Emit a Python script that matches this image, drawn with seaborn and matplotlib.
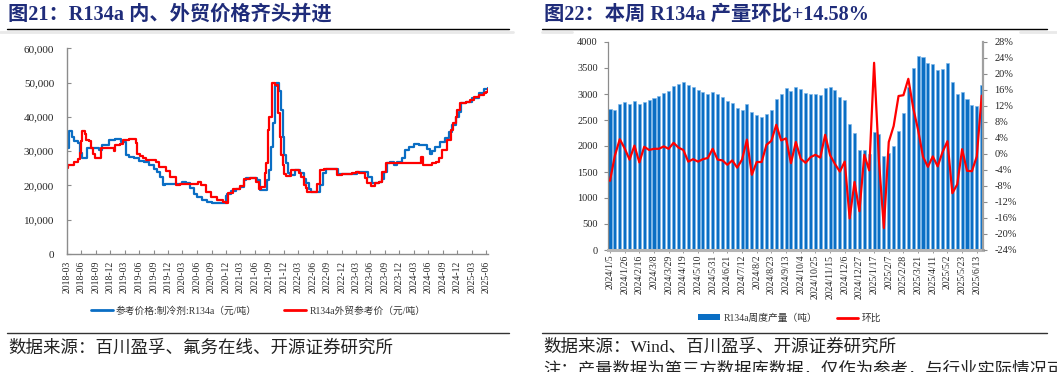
import numpy as np
import pandas as pd
import matplotlib
matplotlib.use("Agg")
import matplotlib.pyplot as plt
import matplotlib.dates as mdates
from matplotlib.lines import Line2D
from matplotlib.patches import Patch
from matplotlib.ticker import FuncFormatter
import seaborn as sns

# ---------------- data: left chart (price, yuan/ton) ----------------
dom_dates = ["2018-03-01", "2018-03-13", "2018-04-04", "2018-04-16", "2018-05-10", "2018-05-22",
             "2018-06-04", "2018-07-07", "2018-07-19", "2018-09-22", "2018-10-10", "2018-11-25",
             "2019-01-01", "2019-02-07", "2019-03-10", "2019-04-01", "2019-05-01", "2019-06-01",
             "2019-07-01", "2019-08-01", "2019-09-01", "2019-09-25", "2019-10-10", "2019-10-28",
             "2019-11-10", "2020-03-01", "2020-03-25", "2020-04-19", "2020-05-10", "2020-06-01",
             "2020-07-01", "2020-08-01", "2020-09-01", "2020-11-28", "2020-12-10", "2021-01-01",
             "2021-02-01", "2021-03-01", "2021-03-22", "2021-04-07", "2021-06-16", "2021-07-01",
             "2021-08-19", "2021-09-01", "2021-09-13", "2021-09-25", "2021-10-04", "2021-10-13",
             "2021-11-01", "2021-11-13", "2021-11-25", "2021-12-04", "2021-12-16", "2021-12-28",
             "2022-01-10", "2022-02-07", "2022-03-16", "2022-04-07", "2022-04-19", "2022-05-07",
             "2022-05-19", "2022-07-16", "2022-08-07", "2022-08-22", "2022-11-07", "2023-03-07",
             "2023-05-19", "2023-06-10", "2023-07-01", "2023-07-22", "2023-08-10", "2023-08-25",
             "2023-09-13", "2023-10-04", "2023-10-25", "2023-11-16", "2023-12-16", "2024-01-07",
             "2024-01-28", "2024-03-01", "2024-04-01", "2024-05-25", "2024-06-10", "2024-06-25",
             "2024-07-13", "2024-08-16", "2024-09-16", "2024-10-07", "2024-10-28", "2024-11-19",
             "2024-12-10", "2024-12-22", "2025-01-25", "2025-03-01", "2025-04-16", "2025-05-19",
             "2025-06-13"]
dom_prices = [31000, 36000, 34200, 33000, 32300, 29400,
              28000, 30800, 31000, 30300, 31800, 33200,
              33500, 32800, 28900, 28400, 27900, 27200,
              26700, 25900, 24800, 24000, 22500, 20000,
              20300, 20900, 20600, 19200, 17600, 16600,
              15800, 15200, 14900, 17000, 17600, 18400,
              18900, 19500, 21500, 22100, 21600, 18700,
              21600, 24500, 31300, 38100, 49000, 50000,
              47500, 42000, 34000, 29000, 26400, 23500,
              23000, 24500, 23500, 22000, 20600, 18900,
              18200, 20100, 23500, 24800, 23300, 24000,
              22500, 20800, 20600, 21100, 22000, 24000,
              26400, 26900, 26000, 26900, 27900, 30300,
              31300, 32100, 31800, 30500, 29200, 30100,
              31300, 32800, 33700, 35700, 37600, 40000,
              41500, 44100, 44400, 45400, 46850, 48000,
              48300]

exp_dates = ["2018-03-01", "2018-03-10", "2018-04-16", "2018-05-10", "2018-05-22", "2018-06-01",
             "2018-06-07", "2018-06-22", "2018-06-28", "2018-07-22", "2018-08-04", "2018-08-16",
             "2018-08-28", "2018-10-01", "2018-12-22", "2019-01-01", "2019-02-01", "2019-02-19",
             "2019-04-01", "2019-05-10", "2019-05-22", "2019-06-04", "2019-06-25", "2019-07-16",
             "2019-09-13", "2019-10-07", "2019-11-16", "2019-12-16", "2020-01-19", "2020-02-13",
             "2020-06-07", "2020-06-25", "2020-07-25", "2020-08-25", "2020-10-07", "2020-11-10",
             "2020-11-28", "2020-12-13", "2021-01-13", "2021-03-01", "2021-03-22", "2021-05-01",
             "2021-06-07", "2021-06-28", "2021-07-10", "2021-08-01", "2021-08-13", "2021-08-22",
             "2021-09-01", "2021-09-16", "2021-10-04", "2021-10-22", "2021-11-04", "2021-11-13",
             "2021-11-25", "2021-12-04", "2021-12-16", "2022-01-16", "2022-03-07", "2022-03-19",
             "2022-04-10", "2022-04-19", "2022-04-28", "2022-06-28", "2022-07-19", "2022-08-10",
             "2022-11-01", "2022-12-01", "2023-02-07", "2023-03-01", "2023-03-22", "2023-04-28",
             "2023-05-13", "2023-06-07", "2023-07-01", "2023-07-22", "2023-08-13", "2023-09-04",
             "2023-09-25", "2024-04-15", "2024-04-26", "2024-06-25", "2024-07-16", "2024-08-04",
             "2024-08-28", "2024-09-25", "2024-10-19", "2024-11-01", "2024-11-19", "2024-12-01",
             "2024-12-19", "2025-01-25", "2025-02-16", "2025-03-16", "2025-04-16", "2025-05-16",
             "2025-06-01", "2025-06-13"]
exp_prices = [25000, 26000, 26900, 27700, 29400, 33000,
              36000, 35000, 33200, 33000, 30800, 29300,
              27900, 31000, 29900, 31800, 32100, 33250,
              33600, 32300, 29200, 28700, 28100, 27400,
              26900, 25300, 24300, 22400, 20100, 20400,
              20900, 20100, 18200, 16700, 15700, 15200,
              14800, 17700, 18900, 19800, 21900, 22100,
              21000, 19100, 19600, 23500, 26400, 36200,
              40000, 50000, 49300, 41000, 34200, 28900,
              26000, 23300, 22840, 24500, 23500, 22550,
              20100, 19200, 18000, 20400, 24500, 24700,
              23000, 23300, 23700, 24000, 23500, 22060,
              20600, 19900, 20600, 21100, 24000, 26400,
              26630, 28400, 25950, 26440, 26900, 27900,
              30300, 33240, 36160, 38100, 40000, 42000,
              44100, 44400, 44900, 45900, 46400, 47000,
              47300, 48100]

# ---------------- data: right chart (weekly output, t / w-o-w %) ----------------
week_start = "2024-01-05"
output_t = [2710, 2700, 2800, 2840, 2800, 2860, 2800, 2850, 2880, 2920,
            2960, 3020, 3060, 3150, 3200, 3230, 3170, 3130, 3070, 3030,
            3000, 3040, 3000, 2950, 2870, 2830, 2730, 2700, 2800, 2650,
            2600, 2550, 2610, 2700, 2900, 3000, 3120, 3050, 3130, 3090,
            3020, 3000, 3000, 2975, 3120, 3140, 3070, 2935, 2885, 2415,
            2245, 1925, 1925, 1845, 2270, 2230, 1815, 1870, 2005, 2295,
            2640, 3140, 3505, 3730, 3710, 3590, 3570, 3460, 3480, 3590,
            3235, 2995, 3030, 2905, 2780, 2770, 3175]
wow_pct = [-6.7, -0.4, 3.7, 1.4, -1.4, 2.1, -2.1, 1.8, 1.0, 1.3,
           1.3, 1.9, 1.3, 2.8, 1.6, 1.0, -1.9, -1.3, -1.9, -1.3,
           -1.0, 1.3, -1.4, -1.6, -2.7, -1.6, -3.4, -1.4, 3.6, -5.2,
           -2.0, -2.0, 2.3, 3.3, 7.3, 3.4, 3.9, -2.3, 3.0, -1.2,
           -2.2, -0.8, -0.2, -0.9, 4.8, -0.3, -2.5, -4.4, -1.9, -16.1,
           -7.0, -14.3, -0.2, -4.1, 22.8, -1.8, -18.5, 3.0, 7.0, 14.5,
           14.7, 18.8, 11.5, 6.0, -0.7, -3.2, -0.6, -3.1, 0.5, 3.2,
           -9.8, -7.6, 1.2, -4.2, -4.3, -0.6, 14.58]

# ---------------- style ----------------
sns.set_theme(style="white")
SERIF_CJK = ["Liberation Serif", "Noto Sans CJK SC"]
plt.rcParams["font.family"] = SERIF_CJK
plt.rcParams["axes.unicode_minus"] = False

W, H = 1057, 372
fig = plt.figure(figsize=(W / 100, H / 100), dpi=100)
fig.patch.set_facecolor("white")


def fx(px):
    return px / W


def fy(py):
    return 1 - py / H


BLUE = "#0A6EC4"
RED = "#FF0000"
AXIS_GREY = "#8c8c8c"
TITLE_C = "#1F2C7A"

# ---------------- left chart ----------------
ax1 = fig.add_axes([fx(66.7), fy(254), (488 - 66.7) / W, (254 - 48.3) / H])
dom = pd.DataFrame({"date": pd.to_datetime(dom_dates), "v": dom_prices})
exp = pd.DataFrame({"date": pd.to_datetime(exp_dates), "v": exp_prices})
sns.lineplot(data=dom, x="date", y="v", ax=ax1, color=BLUE, lw=1.6,
             drawstyle="steps-post", estimator=None)
sns.lineplot(data=exp, x="date", y="v", ax=ax1, color=RED, lw=1.6,
             drawstyle="steps-post", estimator=None)
ax1.set_xlim(pd.Timestamp("2018-03-01"), pd.Timestamp("2025-06-12"))
ax1.set_ylim(0, 60000)
ax1.set_yticks(range(0, 60001, 10000))
ax1.yaxis.set_major_formatter(FuncFormatter(lambda v, p: f"{int(v):,}"))
ax1.xaxis.set_major_locator(mdates.MonthLocator(bymonth=[3, 6, 9, 12]))
ax1.xaxis.set_major_formatter(mdates.DateFormatter("%Y-%m"))
ax1.set_xlabel("")
ax1.set_ylabel("")
for s in ["top", "right"]:
    ax1.spines[s].set_visible(False)
for s in ["left", "bottom"]:
    ax1.spines[s].set_color(AXIS_GREY)
    ax1.spines[s].set_linewidth(1.0)
ax1.tick_params(axis="y", direction="in", length=3, width=0.8, color=AXIS_GREY,
                labelsize=8, pad=9, left=True)
ax1.tick_params(axis="x", direction="in", length=3, width=0.8, color=AXIS_GREY,
                labelsize=7, pad=5, rotation=90, bottom=True)
for lab in ax1.get_xticklabels() + ax1.get_yticklabels():
    lab.set_fontfamily("Liberation Serif")
h1 = [Line2D([], [], color=BLUE, lw=2), Line2D([], [], color=RED, lw=2)]
ax1.legend(h1, ["参考价格:制冷剂:R134a（元/吨）", "R134a外贸参考价（元/吨）"],
           loc="center", bbox_to_anchor=(fx(258), fy(311)), bbox_transform=fig.transFigure,
           ncol=2, frameon=False, fontsize=7, handlelength=2.3, handletextpad=0.3,
           columnspacing=2.8, labelcolor="#333333")

# ---------------- right chart ----------------
ax2 = fig.add_axes([fx(607.5), fy(250), (983.3 - 607.5) / W, 208 / H])
weeks = pd.date_range(week_start, periods=len(output_t), freq="7D")
wk_labels = [f"{d.year}/{d.month}/{d.day}" for d in weeks]
bars = pd.DataFrame({"week": wk_labels, "t": output_t})
sns.barplot(data=bars, x="week", y="t", ax=ax2, color=BLUE, saturation=1,
            width=0.62, edgecolor="#7DB6EA", linewidth=0.45)
ax2.set_ylim(0, 4000)
ax2.set_yticks(range(0, 4001, 500))
ax2.set_xticks(range(0, len(wk_labels), 3))
ax2.set_xticklabels(wk_labels[::3], rotation=90)
ax2.set_xlabel("")
ax2.set_ylabel("")

ax3 = ax2.twinx()
line_df = pd.DataFrame({"i": np.arange(len(wow_pct)), "p": wow_pct})
sns.lineplot(data=line_df, x="i", y="p", ax=ax3, color=RED, lw=1.6, estimator=None)
ax3.set_ylim(-24, 28)
ax3.set_yticks(range(-24, 29, 4))
ax3.yaxis.set_major_formatter(FuncFormatter(lambda v, p: f"{int(v)}%"))
ax3.set_xlabel("")
ax3.set_ylabel("")
ax2.set_xlim(-0.51, len(output_t) - 1 + 0.33)
ax3.set_xlim(-0.51, len(output_t) - 1 + 0.33)

for s in ["top"]:
    ax2.spines[s].set_visible(False)
    ax3.spines[s].set_visible(False)
ax2.spines["right"].set_visible(False)
ax3.spines["left"].set_visible(False)
ax3.spines["bottom"].set_visible(False)
ax2.spines["left"].set_color(AXIS_GREY)
ax2.spines["left"].set_linewidth(0.9)
ax2.spines["bottom"].set_color("#b5b5b5")
ax2.spines["bottom"].set_linewidth(2.2)
ax3.spines["right"].set_color("#a0a0a0")
ax3.spines["right"].set_linewidth(1.6)
ax2.tick_params(axis="y", direction="out", length=3, width=0.8, color=AXIS_GREY,
                labelsize=7.5, pad=4, left=True)
ax2.tick_params(axis="x", direction="out", length=2, width=0.6, color=AXIS_GREY,
                labelsize=7, pad=1.5, bottom=True)
ax3.tick_params(axis="y", direction="out", length=3, width=0.8, color=AXIS_GREY,
                labelsize=7.5, pad=5, right=True)
for lab in ax2.get_xticklabels() + ax2.get_yticklabels() + ax3.get_yticklabels():
    lab.set_fontfamily("Liberation Serif")
ax3.set_zorder(ax2.get_zorder() + 1)
ax3.patch.set_visible(False)

h2 = [Patch(facecolor=BLUE, edgecolor="none"), Line2D([], [], color=RED, lw=2)]
ax3.legend(h2, ["R134a周度产量（吨）", "环比"], loc="center",
           bbox_to_anchor=(fx(790), fy(318)), bbox_transform=fig.transFigure,
           ncol=2, frameon=False, fontsize=7, handlelength=2.2, handleheight=0.55,
           handletextpad=0.4, columnspacing=2.0, labelcolor="#333333")

# ---------------- titles, rules, sources ----------------
fig.text(fx(8), fy(15), "图21：R134a 内、外贸价格齐头并进", fontsize=14.6, fontweight="bold",
         color=TITLE_C, va="center", ha="left", family=SERIF_CJK)
fig.text(fx(544), fy(15), "图22：本周 R134a 产量环比+14.58%", fontsize=14.6, fontweight="bold",
         color=TITLE_C, va="center", ha="left", family=SERIF_CJK)

for (x0, x1, y, c, lw) in [(7, 509, 29, "black", 1.0), (542, 1047, 29, "black", 1.0),
                           (7, 509, 333, "#333333", 1.0), (542, 1047, 333, "#333333", 1.0),
                           (0, 513, 31.8, "#e9e9e9", 2.0), (542, 572, 31.8, "#e9e9e9", 2.0),
                           (1020, 1057, 31.8, "#e9e9e9", 2.0)]:
    fig.add_artist(Line2D([fx(x0), fx(x1)], [fy(y), fy(y)], color=c, lw=lw,
                          transform=fig.transFigure))

fig.text(fx(8), fy(348), "数据来源：百川盈孚、氟务在线、开源证券研究所", fontsize=12.6,
         color="#222222", va="center", ha="left", family=["Noto Sans CJK SC"])
fig.text(fx(543), fy(348), "数据来源：Wind、百川盈孚、开源证券研究所", fontsize=12.6,
         color="#222222", va="center", ha="left", family=SERIF_CJK)
fig.text(fx(543), fy(361.5), "注：产量数据为第三方数据库数据，仅作为参考，与行业实际情况可能存在偏差",
         fontsize=12.5, color="#222222", va="top", ha="left", family=SERIF_CJK)

fig.savefig("out.png", dpi=100, facecolor="white")
